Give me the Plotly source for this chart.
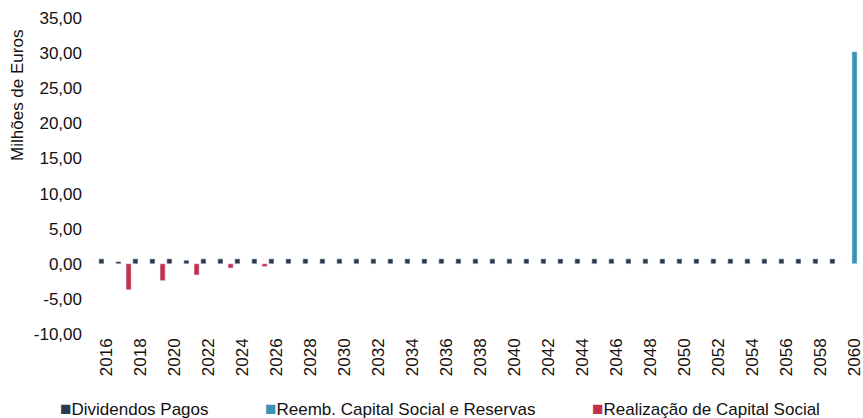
import plotly.graph_objects as go

years = [str(y) for y in range(2016, 2061)]
tick_years = [str(y) for y in range(2016, 2061, 2)]
y_ticks = [-10, -5, 0, 5, 10, 15, 20, 25, 30, 35]
y_ticktext = ["-10,00", "-5,00", "0,00", "5,00", "10,00", "15,00", "20,00", "25,00", "30,00", "35,00"]

# Dividendos Pagos (small positive values each year 2016-2059)
dividendos = [0.7, 0.3, 0.7, 0.7, 0.7, 0.5, 0.7, 0.7, 0.7, 0.7,
              0.7, 0.7, 0.7, 0.7, 0.7, 0.7, 0.7, 0.7, 0.7, 0.7,
              0.7, 0.7, 0.7, 0.7, 0.7, 0.7, 0.7, 0.7, 0.7, 0.7,
              0.7, 0.7, 0.7, 0.7, 0.7, 0.7, 0.7, 0.7, 0.7, 0.7,
              0.7, 0.7, 0.7, 0.7, None]
# Reemb. Capital Social e Reservas
reembolso = [None] * 44 + [30.2]
# Realização de Capital Social
realizacao = [None, -3.7, None, -2.4, None, -1.6, None, -0.6, None, -0.4] + [None] * 35

c_div = "#2b3a4f"
c_ree = "#3a93b7"
c_rea = "#c3304f"
font_family = "Liberation Sans, Arial, sans-serif"
txt = "#111111"

fig = go.Figure()
fig.add_bar(x=years, y=dividendos, name="Dividendos Pagos", marker_color=c_div, showlegend=False)
fig.add_bar(x=years, y=reembolso, name="Reemb. Capital Social e Reservas", marker_color=c_ree, showlegend=False)
fig.add_bar(x=years, y=realizacao, name="Realização de Capital Social", marker_color=c_rea, showlegend=False)

fig.update_layout(
    width=863, height=418,
    margin=dict(l=98, r=0, t=18, b=84, autoexpand=False),
    paper_bgcolor="white", plot_bgcolor="white",
    barmode="group", bargap=0.1, bargroupgap=0,
    font=dict(family=font_family, size=17, color=txt),
)
fig.update_xaxes(
    type="category", categoryorder="array", categoryarray=years,
    range=[-0.5, 44.5],
    tickmode="array", tickvals=tick_years, ticktext=tick_years,
    tickangle=-90, showgrid=False, showline=False, zeroline=False,
    ticks="", automargin=False, tickfont=dict(size=17, color=txt),
)
fig.update_yaxes(
    range=[-10, 35], tickmode="array", tickvals=y_ticks, ticktext=y_ticktext,
    showgrid=False, showline=False, zeroline=False, ticks="",
    ticklabelstandoff=15,
    automargin=False, tickfont=dict(size=17, color=txt),
)

# y-axis title as rotated annotation
fig.add_annotation(
    text="Milhões de Euros", textangle=-90,
    xref="paper", x=0, xanchor="center", xshift=-80,
    yref="y", y=23.9, yanchor="middle",
    showarrow=False, font=dict(size=17, color=txt),
)

# legend as annotations
legend_items = [
    ("Dividendos Pagos", c_div, 58),
    ("Reemb. Capital Social e Reservas", c_ree, 263),
    ("Realização de Capital Social", c_rea, 590),
]
for label, col, px in legend_items:
    fig.add_annotation(
        text=f"<span style='color:{col};font-size:19px'>■</span>{label}",
        xref="paper", x=(px - 98) / 765, xanchor="left",
        yref="paper", y=(418 - 84 - 408) / 316, yanchor="middle",
        showarrow=False, font=dict(size=17, color=txt),
    )

fig.write_html("out.html", config={"displayModeBar": False})

# remove default page margin so the figure sits at the window's top-left corner
with open("out.html", encoding="utf-8") as f:
    html = f.read()
html = html.replace("<head>", "<head><style>html,body{margin:0;padding:0;}</style>", 1)
with open("out.html", "w", encoding="utf-8") as f:
    f.write(html)
